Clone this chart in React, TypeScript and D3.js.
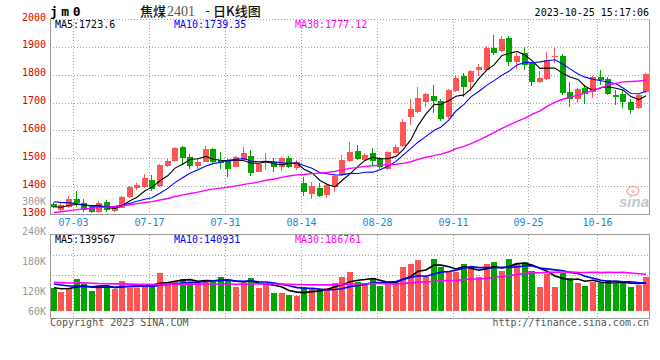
import React from "react";
import * as d3 from "d3";

// ---------- data ----------
const dates = [
  "06-29","06-30",
  "07-03","07-04","07-05","07-06","07-07","07-10","07-11","07-12","07-13","07-14","07-17","07-18","07-19","07-20","07-21","07-24","07-25","07-26","07-27","07-28","07-31",
  "08-01","08-02","08-03","08-04","08-07","08-08","08-09","08-10","08-11","08-14","08-15","08-16","08-17","08-18","08-21","08-22","08-23","08-24","08-25","08-28","08-29","08-30","08-31",
  "09-01","09-04","09-05","09-06","09-07","09-08","09-11","09-12","09-13","09-14","09-15","09-18","09-19","09-20","09-21","09-22","09-25","09-26","09-27","09-28",
  "10-09","10-10","10-11","10-12","10-13","10-16","10-17","10-18","10-19","10-20","10-23","10-24","10-25"
];

const opens = [
  1336,1314,1325,1355,1341,1326,1308,1343,1311,1323,
  1362,1392,1398,1422,1401,1473,1490,1541,1505,1473,
  1488,1533,1494,1490,1470,1494,1508,1452,1484,1486,
  1470,1502,1466,1410,1372,1392,1369,1397,1440,1490,
  1526,1494,1518,1500,1460,1518,1544,1647,1667,1701,
  1724,1707,1647,1742,1795,1775,1817,1817,1897,1886,
  1933,1847,1877,1841,1775,1785,1863,1868,1739,1712,
  1753,1739,1791,1785,1727,1731,1703,1679,1739
];
const highs = [
  1343,1340,1366,1384,1354,1332,1347,1350,1329,1366,
  1401,1412,1443,1440,1480,1496,1541,1544,1516,1500,
  1545,1537,1521,1497,1508,1539,1530,1483,1518,1501,
  1506,1509,1494,1434,1414,1410,1410,1444,1512,1557,
  1548,1518,1538,1505,1526,1548,1640,1713,1755,1734,
  1763,1713,1749,1799,1805,1817,1837,1904,1943,1939,
  1939,1879,1901,1846,1813,1883,1895,1874,1775,1753,
  1759,1796,1817,1793,1745,1745,1713,1731,1806
];
const lows = [
  1322,1311,1322,1326,1307,1304,1305,1307,1307,1320,
  1359,1386,1395,1383,1397,1469,1487,1476,1462,1462,
  1485,1483,1462,1434,1467,1490,1437,1449,1458,1452,
  1455,1465,1458,1365,1353,1360,1356,1379,1436,1487,
  1494,1490,1472,1463,1458,1515,1541,1620,1661,1684,
  1661,1634,1640,1738,1721,1742,1796,1813,1871,1883,
  1832,1819,1817,1761,1772,1781,1843,1727,1683,1697,
  1695,1715,1763,1727,1691,1679,1659,1677,1736
];
const closes = [
  1325,1332,1354,1338,1314,1308,1341,1314,1325,1362,
  1396,1404,1430,1390,1476,1490,1538,1502,1473,1488,
  1533,1488,1482,1462,1505,1520,1446,1479,1489,1468,
  1502,1470,1486,1378,1402,1365,1404,1436,1494,1521,
  1499,1512,1491,1468,1521,1542,1630,1677,1716,1731,
  1707,1640,1745,1789,1757,1814,1829,1897,1879,1928,
  1847,1867,1835,1775,1789,1853,1868,1735,1712,1748,
  1731,1793,1781,1731,1721,1701,1673,1727,1801
];
const volumes = [
  118000,98000,118000,162000,135000,101000,118000,127000,110000,152000,
  118000,118000,135000,135000,193000,140000,152000,162000,148000,152000,
  157000,145000,174000,157000,123000,140000,169000,118000,135000,93000,
  93000,81000,76000,123000,118000,111000,118000,142000,172000,199000,
  148000,135000,169000,128000,145000,140000,224000,238000,258000,179000,
  263000,224000,199000,199000,238000,224000,174000,238000,250000,203000,
  263000,245000,250000,203000,123000,186000,123000,191000,169000,143000,
  128000,148000,140000,157000,137000,148000,123000,132000,174000
];
// closes / volumes before the window, implied by where the MA lines start
const priorCloses = [
  1245,1240,1232,1238,1250,1262,1255,1268,1280,1275,1290,1302,1296,1310,1318,1325,1330,1322,1338,1345,
  1355,1372,1368,1360,1356,1340,1322,1318,1325
];
const priorVolumes = [
  142000,160000,155000,138000,150000,165000,148000,140000,152000,158000,145000,136000,150000,162000,147000,
  141000,155000,150000,143000,143000,150000,172000,160000,150000,148000,125000,112000,120000,115000
];

const xTickDates = ["07-03","07-17","07-31","08-14","08-28","09-11","09-25","10-16"];
const priceTicks = [1300,1400,1500,1600,1700,1800,1900,2000];
const volTickLabels = ["300K","240K","180K","120K","60K"];
const maPeriods = [5,10,30];
const priceMaLabels = ["MA5:1723.6","MA10:1739.35","MA30:1777.12"];
const volMaLabels = ["MA5:139567","MA10:140931","MA30:186761"];
const titleCode = "jm0";
const titleName = "焦煤";
const titleContract = "2401";
const titleSuffix = "日K线图";
const timestamp = "2023-10-25 15:17:06";
const copyright = "Copyright 2023 SINA.COM";
const siteUrl = "http://finance.sina.com.cn";

// ---------- styling ----------
const UP = "#ff5454";
const DOWN = "#00a600";
const MA_COLORS = ["#000000", "#0000ff", "#ff00ff"];
const MONO = "'DejaVu Sans Mono', monospace";
const GRID = "#a0a0a0";
const BORDER = "#9a9a9a";

function movingAverage(values: number[], prior: number[], n: number): number[] {
  const all = prior.concat(values);
  const off = prior.length;
  return values.map((_, i) => d3.mean(all.slice(off + i - n + 1, off + i + 1)) as number);
}

export default function App() {
  const W = 660, H = 360;
  const L = 50, R = 650;
  const mainTop = 19, mainBottom = 214;
  const volTop = 235, volBottom = 319;

  const x = d3.scaleBand<string>().domain(dates).range([L, R]).paddingInner(0.2).paddingOuter(0.1);
  const step = x.step();
  const bw = 6;
  const bx = (i: number) => Math.round(x(dates[i]) as number);
  const cx = (i: number) => bx(i) + 2.5;
  const slotRight = (d: string) => (x(d) as number) + x.bandwidth() + (step - x.bandwidth()) / 2;

  const y = d3.scaleLinear().domain([1300, 2000]).range([mainBottom, mainTop]);
  const v = d3.scaleLinear().domain([0, 385000]).range([311, volTop]);

  const priceMAs = maPeriods.map((n) => movingAverage(closes, priorCloses, n));
  const volMAs = maPeriods.map((n) => movingAverage(volumes, priorVolumes, n));

  const priceLine = d3.line<number>().x((_, i) => cx(i) + 0.5).y((d) => y(d));
  const volLine = d3.line<number>().x((_, i) => cx(i) + 0.5).y((d) => v(d));

  const gridXs = xTickDates.map((d) => Math.round(slotRight(d)) + 0.5);
  const volGridYs = [1, 2, 3].map((k) => Math.round(volTop + (k * (volBottom - volTop - 4)) / 4) + 0.5);

  return (
    <div style={{ position: "absolute", left: 0, top: 0 }}>
      <svg width={W} height={H} viewBox={`0 0 ${W} ${H}`} style={{ display: "block", background: "#fff" }}>
        {/* title row */}
        <text x={50} y={16} fontFamily={MONO} fontWeight="bold" fontSize={13} letterSpacing={3.5} fill="#000">{titleCode}</text>
        <text x={140} y={16} fontFamily="'Noto Sans CJK SC', sans-serif" fontSize={13} fontWeight={500} fill="#111">{titleName}</text>
        <text x={167} y={16} fontFamily="'Liberation Serif', serif" fontSize={14} fill="#555">{titleContract}</text>
        <text x={204} y={15} fontFamily={MONO} fontSize={12} fill="#111">-</text>
        <text x={213} y={16} fontFamily="'Noto Sans CJK SC', sans-serif" fontSize={13} fontWeight={500} fill="#111">{titleSuffix}</text>
        <text x={649} y={15.5} textAnchor="end" fontFamily={MONO} fontSize={10} fill="#000">{timestamp}</text>

        {/* sina watermark */}
        <g opacity={0.55}>
          <ellipse cx={633} cy={191} rx={6} ry={4.5} fill="none" stroke="#f07878" strokeWidth={1.6} />
          <circle cx={633} cy={191.5} r={1.6} fill="#f07878" />
          <text x={619} y={207} fontFamily="'Liberation Sans', Arial, sans-serif" fontStyle="italic" fontWeight="bold" fontSize={15} fill="#9a9a9a">sina</text>
        </g>

        {/* main grid */}
        <g stroke={GRID} strokeDasharray="1,2" shapeRendering="crispEdges">
          {priceTicks.filter((t) => t !== 1300).map((t) => (
            <line key={t} x1={L} x2={R} y1={Math.round(y(t)) + 0.5} y2={Math.round(y(t)) + 0.5} />
          ))}
          {gridXs.map((gx, i) => (
            <line key={"m" + i} x1={gx} x2={gx} y1={mainTop} y2={mainBottom} />
          ))}
          {volGridYs.map((gy, i) => (
            <line key={"vg" + i} x1={L} x2={R} y1={gy} y2={gy} />
          ))}
          {gridXs.map((gx, i) => (
            <line key={"v" + i} x1={gx} x2={gx} y1={volTop} y2={volBottom} />
          ))}
        </g>

        {/* borders */}
        <g stroke={BORDER} fill="none" shapeRendering="crispEdges">
          <line x1={L + 0.5} x2={L + 0.5} y1={mainTop} y2={mainBottom + 0.5} />
          <line x1={R - 0.5} x2={R - 0.5} y1={mainTop - 0.5} y2={mainBottom + 0.5} strokeWidth={1.5} />
          <line x1={L} x2={R} y1={mainBottom + 0.5} y2={mainBottom + 0.5} strokeWidth={1.5} />
          <line x1={L} x2={R} y1={volTop - 0.5} y2={volTop - 0.5} />
          <line x1={L + 0.5} x2={L + 0.5} y1={volTop - 0.5} y2={volBottom} />
          <line x1={R - 0.5} x2={R - 0.5} y1={volTop - 0.5} y2={volBottom} strokeWidth={1.5} />
          <line x1={L} x2={R} y1={volBottom - 0.5} y2={volBottom - 0.5} strokeWidth={1.5} />
        </g>

        {/* price axis labels */}
        {priceTicks.map((t) => (
          <text key={t} x={46} y={y(t) + 1.5} textAnchor="end" fontFamily={MONO} fontSize={10} fill="#e00000">{t}</text>
        ))}
        {/* volume axis labels */}
        {volTickLabels.map((t, i) => (
          <text key={t} x={46} y={i < 4 ? 204.5 + i * 30 : 314.5} textAnchor="end" fontFamily={MONO} fontSize={10} fill="#9a9a9a">{t}</text>
        ))}
        {/* date labels */}
        {xTickDates.map((d, i) => (
          <text key={d} x={gridXs[i]} y={225.5} textAnchor="middle" fontFamily={MONO} fontSize={10} fill="#1a86d8">{d}</text>
        ))}

        {/* candles */}
        <g shapeRendering="crispEdges">
          {dates.map((d, i) => {
            const up = closes[i] >= opens[i];
            const col = up ? UP : DOWN;
            const top = Math.round(y(Math.max(opens[i], closes[i])));
            const bot = Math.round(y(Math.min(opens[i], closes[i])));
            return (
              <g key={d}>
                <line x1={cx(i)} x2={cx(i)} y1={Math.round(y(highs[i]))} y2={Math.round(y(lows[i]))} stroke={col} />
                <rect x={bx(i)} y={top} width={bw} height={Math.max(1, bot - top)} fill={col} />
              </g>
            );
          })}
        </g>
        {/* price MA lines */}
        {priceMAs.map((ma, k) => (
          <path key={k} d={priceLine(ma) as string} fill="none" stroke={MA_COLORS[k]} strokeWidth={k === 2 ? 1.4 : 1.1} />
        ))}

        {/* volume bars */}
        <g shapeRendering="crispEdges">
          {dates.map((d, i) => {
            const up = closes[i] >= opens[i];
            const top = Math.round(v(volumes[i]));
            return <rect key={d} x={bx(i)} y={top} width={bw} height={Math.round(v(0)) - top} fill={up ? UP : DOWN} />;
          })}
        </g>
        {volMAs.map((ma, k) => (
          <path key={k} d={volLine(ma) as string} fill="none" stroke={MA_COLORS[k]} strokeWidth={1.6} />
        ))}

        {/* MA legends */}
        {priceMaLabels.map((t, k) => (
          <text key={t} x={[55, 174, 295][k]} y={27.5} fontFamily={MONO} fontSize={10} fill={MA_COLORS[k]}>{t}</text>
        ))}
        {volMaLabels.map((t, k) => (
          <text key={t} x={[55, 174, 295][k]} y={242.5} fontFamily={MONO} fontSize={10} fill={MA_COLORS[k]}>{t}</text>
        ))}

        {/* footer */}
        <text x={50} y={326} fontFamily={MONO} fontSize={10} fill="#555">{copyright}</text>
        <text x={649} y={326} textAnchor="end" fontFamily={MONO} fontSize={10} fill="#555">{siteUrl}</text>
      </svg>
    </div>
  );
}
